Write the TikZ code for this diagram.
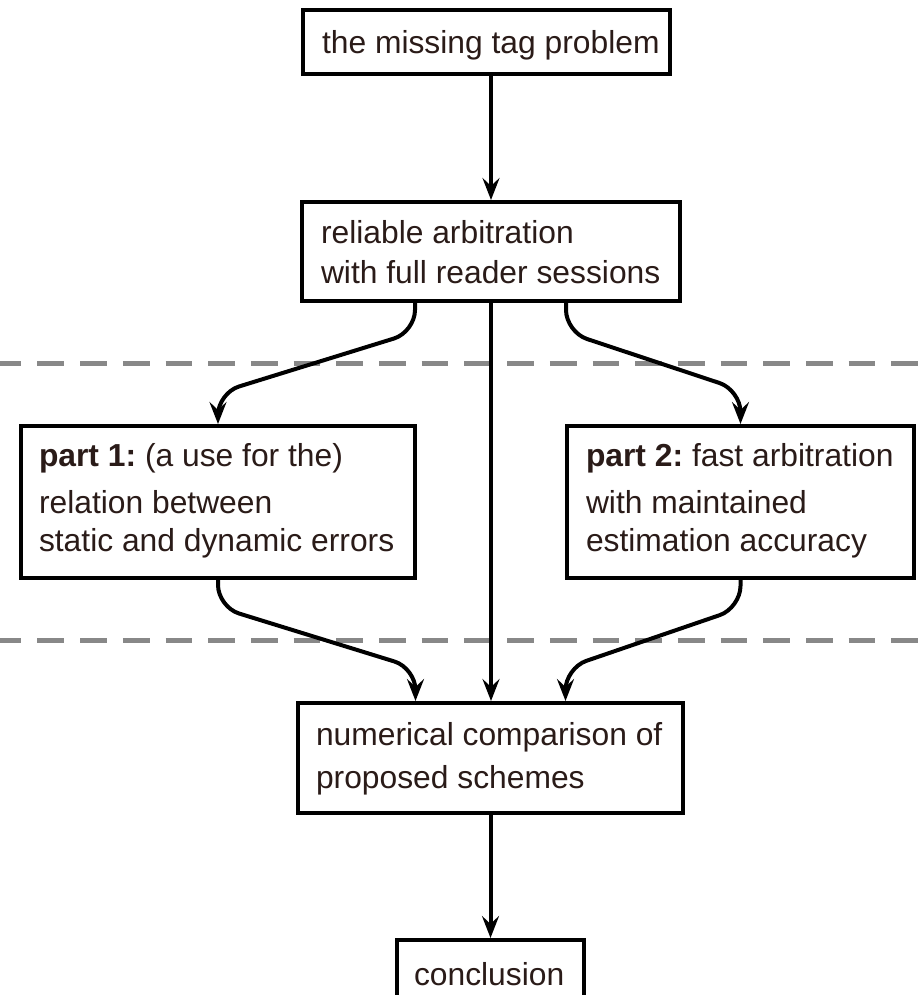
\documentclass[tikz,border=0pt]{standalone}
\usepackage{fontspec}
\setmainfont{Liberation Sans}
\usetikzlibrary{arrows.meta,calc}
\definecolor{ink}{RGB}{42,27,24}
\definecolor{sepgray}{RGB}{136,136,136}
\begin{document}
\begin{tikzpicture}[x=1pt,y=-1pt,
  box/.style={draw=black,line width=4pt,inner sep=0pt,outer sep=2pt,fill=white},
  lbl/.style={inner sep=0pt,outer sep=0pt,anchor=base west,text=ink,
    font=\fontsize{31.8}{36}\selectfont},
  flow/.style={draw=black,line width=4pt,rounded corners=22pt,
    -{Stealth[length=22pt,width=17pt,inset=8pt]}},
  sep/.style={draw=sepgray,line width=5pt,dash pattern=on 26.7pt off 16pt,dash phase=5.3pt}]
\useasboundingbox (0,0) rectangle (919,995);

% separators between the stages
\coordinate (s1l) at (0,363);   \coordinate (s1r) at (919,363);
\coordinate (s2l) at (0,640);   \coordinate (s2r) at (919,640);
\draw[sep] (s1l) -- (s1r);
\draw[sep] (s2l) -- (s2r);

% boxes
\node[box,minimum width=367pt,minimum height=64pt]  (b1) at (486.5,42) {};
\node[box,minimum width=378pt,minimum height=99pt]  (b2) at (491,251.5) {};
\node[box,minimum width=394pt,minimum height=152pt] (b3) at (218,502) {};
\node[box,minimum width=347pt,minimum height=152pt] (b4) at (740.5,502) {};
\node[box,minimum width=385pt,minimum height=110pt] (b5) at (490.5,758) {};
\node[box,minimum width=187pt,minimum height=65pt]  (b6) at (490.5,972.5) {};

% box texts
\node[lbl] (t1)  at (322,54)  {the missing tag problem};
\node[lbl] (t2a) at (321,243) {reliable arbitration};
\node[lbl] (t2b) at (321,283) {with full reader sessions};
\node[lbl] (t3a) at (39,466)  {\bfseries part 1:\mdseries\ (a use for the)};
\node[lbl] (t3b) at (39,513)  {relation between};
\node[lbl] (t3c) at (39,551)  {static and dynamic errors};
\node[lbl] (t4a) at (586,466) {\bfseries part 2:\mdseries\ fast arbitration};
\node[lbl] (t4b) at (586,513) {with maintained};
\node[lbl] (t4c) at (586,551) {estimation accuracy};
\node[lbl] (t5a) at (316,745) {numerical comparison of};
\node[lbl] (t5b) at (316,788) {proposed schemes};
\node[lbl] (t6)  at (414,985) {conclusion};

% connectors
\draw[flow] (b2.north |- b1.south) -- (b2.north);
\draw[flow] ($(b2.south)+(-76,0)$) -- ++(0,29) -- ($(b3.north)+(0,-31)$) -- (b3.north);
\draw[flow] ($(b2.south)+(75,0)$) -- ++(0,29) -- ($(b4.north)+(0,-34)$) -- (b4.north);
\draw[flow] (b2.south) -- (b2.south |- b5.north);
\draw[flow] (b3.south) -- ++(0,27) -- ($(b5.north)+(-75,-33)$) -- ($(b5.north)+(-75,0)$);
\draw[flow] (b4.south) -- ++(0,28) -- ($(b5.north)+(75,-33)$) -- ($(b5.north)+(75,0)$);
\draw[flow] (b5.south) -- (b6.north);
\end{tikzpicture}
\end{document}
